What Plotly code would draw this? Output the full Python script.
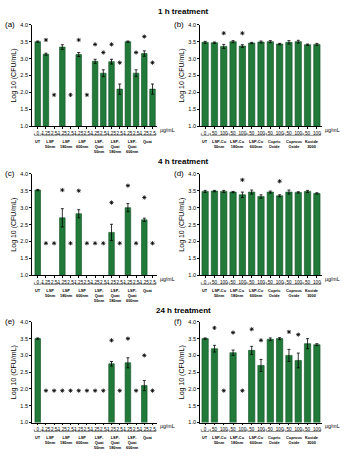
import plotly.graph_objects as go

W, H = 345, 466

# ---------------- data ----------------
ticks_lsp = ["0", "1.25", "2.5", "1.25", "2.5", "1.25", "2.5", "1.25", "2.5",
             "1.25", "2.5", "1.25", "2.5", "1.25", "2.5"]
groups_lsp = ["UT", "LSP<br>50nm", "LSP<br>180nm", "LSP<br>600nm",
              "LSP-<br>Quat<br>50nm", "LSP-<br>Quat<br>180nm", "LSP-<br>Quat<br>600nm", "Quat"]
ticks_cu = ["0", "50", "100", "50", "100", "50", "100", "50", "100", "50", "100", "50", "100"]
groups_cu = ["UT", "LSP-Cu<br>50nm", "LSP-Cu<br>180nm", "LSP-Cu<br>600nm",
             "Cupric<br>Oxide", "Cuprous<br>Oxide", "Kocide<br>3000"]

vals_a = [3.50, 3.13, None, 3.34, None, 3.12, None, 2.92, 2.57, 2.91, 2.10, 3.50, 2.57, 3.15, 2.10]
err_a = [0.02, 0.03, 0, 0.07, 0, 0.06, 0, 0.06, 0.10, 0.07, 0.15, 0.02, 0.10, 0.08, 0.15]
star_a = [None, 3.55, 1.93, None, 1.93, 3.55, 1.93, 3.42, 3.18, 3.42, 2.88, None, 3.18, 3.65, 2.88]

vals_b = [3.48, 3.47, 3.36, 3.50, 3.37, 3.46, 3.49, 3.50, 3.43, 3.48, 3.50, 3.41, 3.42]
err_b = [0.03, 0.02, 0.06, 0.03, 0.04, 0.02, 0.03, 0.03, 0.02, 0.05, 0.04, 0.02, 0.03]
star_b = [None, None, 3.75, None, 3.75, None, None, None, None, None, None, None, None]

vals_c = [3.52, None, None, 2.70, None, 2.82, None, None, None, 2.27, None, 3.00, None, 2.64, None]
err_c = [0.02, 0, 0, 0.27, 0, 0.12, 0, 0, 0, 0.24, 0, 0.12, 0, 0.05, 0]
star_c = [None, 1.95, 1.95, 3.52, 1.95, 3.50, 1.95, 1.95, 1.95, 3.15, 1.95, 3.65, 1.95, 3.30, 1.95]

vals_d = [3.48, 3.49, 3.48, 3.46, 3.38, 3.46, 3.33, 3.46, 3.35, 3.46, 3.45, 3.48, 3.42]
err_d = [0.03, 0.02, 0.03, 0.02, 0.08, 0.06, 0.05, 0.03, 0.03, 0.06, 0.02, 0.03, 0.02]
star_d = [None, None, None, None, 3.82, None, None, None, 3.78, None, None, None, None]

vals_e = [3.50, None, None, None, None, None, None, None, None, 2.75, None, 2.78, None, 2.10, None]
err_e = [0.02, 0, 0, 0, 0, 0, 0, 0, 0, 0.07, 0, 0.15, 0, 0.15, 0]
star_e = [None, 1.95, 1.95, 1.95, 1.95, 1.95, 1.95, 1.95, 1.95, 3.45, 1.95, 3.50, 1.95, 3.00, 1.95]

vals_f = [3.50, 3.20, None, 3.08, None, 3.15, 2.70, 3.48, 3.50, 3.00, 2.85, 3.35, 3.32]
err_f = [0.02, 0.10, 0, 0.08, 0, 0.12, 0.18, 0.04, 0.03, 0.18, 0.22, 0.15, 0.03]
star_f = [None, 3.82, 1.95, 3.68, 1.95, 3.78, 3.45, None, None, 3.70, 3.62, None, None]

titles = ["1 h treatment", "4 h treatment", "24 h treatment"]
labels = ["(a)", "(b)", "(c)", "(d)", "(e)", "(f)"]

# ---------------- layout helpers ----------------
FONT = "Arial, Liberation Sans, sans-serif"
GREEN = "#217a3a"
EDGE = "#0f4f22"

row_top = [22, 173, 323]
row_bot = [125, 276, 425]
col_x = [(32, 157), (200, 322)]
title_y = [9, 161, 312]


def py(p):
    return 1 - p / H


def pxx(p):
    return p / W


panels = [
    (ticks_lsp, groups_lsp, vals_a, err_a, star_a),
    (ticks_cu, groups_cu, vals_b, err_b, star_b),
    (ticks_lsp, groups_lsp, vals_c, err_c, star_c),
    (ticks_cu, groups_cu, vals_d, err_d, star_d),
    (ticks_lsp, groups_lsp, vals_e, err_e, star_e),
    (ticks_cu, groups_cu, vals_f, err_f, star_f),
]

fig = go.Figure()
layout = {}
shapes = []
annotations = []

for i, (ticks, groups, vals, errs, stars) in enumerate(panels):
    row, col = i // 2, i % 2
    sfx = "" if i == 0 else str(i + 1)
    n = len(ticks)
    xs = list(range(n))
    bx = [x for x, v in zip(xs, vals) if v is not None]
    by = [v for v in vals if v is not None]
    be = [e for e, v in zip(errs, vals) if v is not None]
    fig.add_trace(go.Bar(
        x=bx, y=by, xaxis="x" + sfx, yaxis="y" + sfx,
        marker=dict(color=GREEN, line=dict(color=EDGE, width=0.6)),
        error_y=dict(type="data", array=be, color="black", thickness=0.8, width=1.5),
        width=0.68, showlegend=False))
    sx = [x for x, s in zip(xs, stars) if s is not None]
    sy = [s for s in stars if s is not None]
    fig.add_trace(go.Scatter(
        x=sx, y=sy, xaxis="x" + sfx, yaxis="y" + sfx, mode="markers",
        marker=dict(symbol="asterisk-open", size=3.5, color="black",
                    line=dict(color="black", width=0.8)),
        showlegend=False, cliponaxis=False))

    x0, x1 = col_x[col]
    lo = -0.7 if n == 15 else -0.55
    hi = n - 0.45
    layout["xaxis" + sfx] = dict(
        domain=[pxx(x0), pxx(x1)], anchor="y" + sfx, range=[lo, hi],
        tickvals=xs, ticktext=ticks, tickangle=0, showline=True, linecolor="black",
        linewidth=0.8, ticks="outside", ticklen=2, tickwidth=0.7, tickcolor="black",
        tickfont=dict(size=4.6, family=FONT, color="black"), showgrid=False, zeroline=False,
        fixedrange=True)
    layout["yaxis" + sfx] = dict(
        domain=[py(row_bot[row]), py(row_top[row])], anchor="x" + sfx, range=[1, 4],
        tickvals=[1, 1.5, 2, 2.5, 3, 3.5, 4], tickformat=".1f", showline=True,
        linecolor="black", linewidth=0.8, ticks="outside", ticklen=2, tickwidth=0.7,
        tickcolor="black", tickfont=dict(size=5.5, family=FONT, color="black"),
        showgrid=False, zeroline=False,
        title=dict(text="Log 10 (CFU/mL)", font=dict(size=7, family=FONT, color="black"),
                   standoff=2),
        fixedrange=True)

    # unit label
    annotations.append(dict(
        text="µg/mL", x=pxx(x1 + 1), y=py(row_bot[row] + 4), xref="paper", yref="paper",
        xanchor="left", yanchor="middle", showarrow=False,
        font=dict(size=5.2, family=FONT, color="black")))

    # group brackets and labels
    spans = [(0, 0)] + [(1 + 2 * k, 2 + 2 * k) for k in range(len(groups) - 1)]
    yb = py(row_bot[row] + 9)
    yt = py(row_bot[row] + 7)
    xr = "x" + sfx
    for (s, e), g in zip(spans, groups):
        a, b = s - 0.42, e + 0.42
        line = dict(color="#333", width=0.6)
        shapes.append(dict(type="line", xref=xr, yref="paper", x0=a, x1=b, y0=yb, y1=yb, line=line))
        shapes.append(dict(type="line", xref=xr, yref="paper", x0=a, x1=a, y0=yb, y1=yt, line=line))
        shapes.append(dict(type="line", xref=xr, yref="paper", x0=b, x1=b, y0=yb, y1=yt, line=line))
        annotations.append(dict(
            text="<b>" + g + "</b>", x=(s + e) / 2, y=py(row_bot[row] + 10.5), xref=xr,
            yref="paper", xanchor="center", yanchor="top", showarrow=False,
            font=dict(size=3.9, family=FONT, color="black")))

    # panel label
    annotations.append(dict(
        text=labels[i], x=pxx(3 if col == 0 else 172), y=py(row_top[row]), xref="paper",
        yref="paper", xanchor="left", yanchor="middle", showarrow=False,
        font=dict(size=8, family=FONT, color="black")))

for r in range(3):
    annotations.append(dict(
        text="<b>" + titles[r] + "</b>", x=pxx(183), y=py(title_y[r]), xref="paper",
        yref="paper", xanchor="center", yanchor="middle", showarrow=False,
        font=dict(size=8, family=FONT, color="black")))

fig.update_layout(
    width=W, height=H, margin=dict(l=0, r=0, t=0, b=0),
    paper_bgcolor="white", plot_bgcolor="white", bargap=0.3,
    shapes=shapes, annotations=annotations, **layout)

fig.write_html("out.html", config={"displayModeBar": False})
